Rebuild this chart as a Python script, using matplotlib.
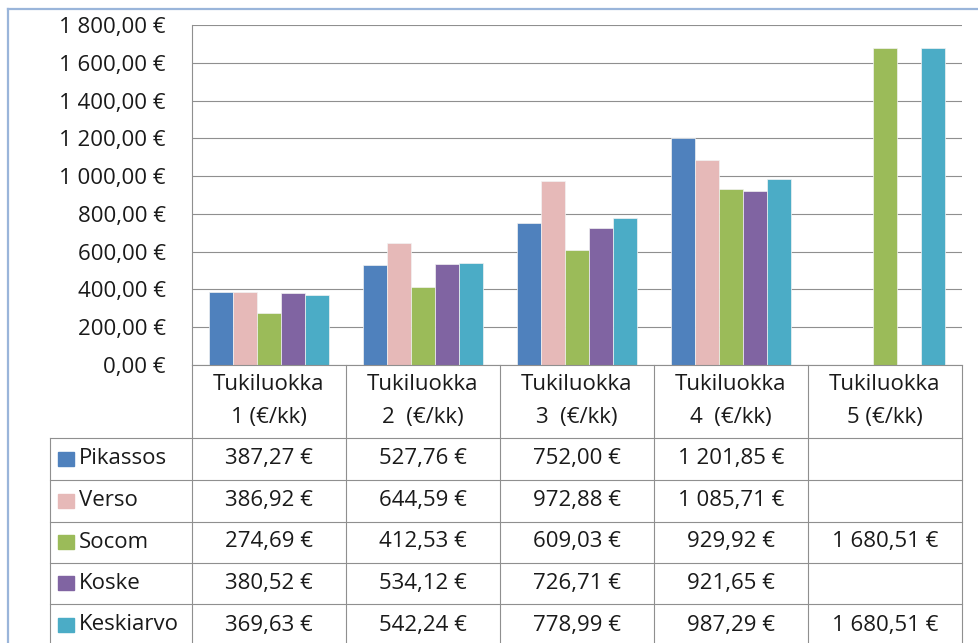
import numpy as np
import matplotlib.pyplot as plt
from matplotlib.patches import Rectangle
from matplotlib.ticker import FuncFormatter, MultipleLocator

plt.rcParams['font.family'] = ['Open Sans', 'DejaVu Sans']

categories = ["Tukiluokka\n1 (€/kk)", "Tukiluokka\n2  (€/kk)", "Tukiluokka\n3  (€/kk)",
              "Tukiluokka\n4  (€/kk)", "Tukiluokka\n5 (€/kk)"]
series = ["Pikassos", "Verso", "Socom", "Koske", "Keskiarvo"]
pikassos = [387.27, 527.76, 752.00, 1201.85, np.nan]
verso = [386.92, 644.59, 972.88, 1085.71, np.nan]
socom = [274.69, 412.53, 609.03, 929.92, 1680.51]
koske = [380.52, 534.12, 726.71, 921.65, np.nan]
keskiarvo = [369.63, 542.24, 778.99, 987.29, 1680.51]
values = [pikassos, verso, socom, koske, keskiarvo]
colors = ["#4F81BD", "#E6B9B8", "#9BBB59", "#8064A2", "#4BACC6"]


def fmt(v, pos=None):
    s = f"{v:,.2f}".replace(",", " ").replace(".", ",")
    return s + " €"


W, H = 979, 643
fig = plt.figure(figsize=(W / 100, H / 100), dpi=100)


def px(x0, y0, x1, y1):
    return [x0 / W, 1 - y1 / H, (x1 - x0) / W, (y1 - y0) / H]


txt = "#1a1a1a"
grid = "#8f8f8f"
fs = 16

# bar plot area
ax = fig.add_axes(px(192, 25, 962, 365))
n = len(categories)
w = 24 / 154
for j, (name, vals) in enumerate(zip(series, values)):
    x = np.arange(n) + 0.5 + (j - 2) * w
    ax.bar(x, vals, w, color=colors[j], edgecolor="#f2f2f2", linewidth=0.5, zorder=3)
ax.set_xlim(0, n)
ax.set_ylim(0, 1800)
ax.yaxis.set_major_locator(MultipleLocator(200))
ax.yaxis.set_major_formatter(FuncFormatter(fmt))
ax.set_xticks([])
ax.tick_params(axis="y", length=0, pad=19, labelsize=fs, labelcolor=txt)
ax.grid(axis="y", color=grid, linewidth=0.8)
ax.set_axisbelow(True)
for s in ["top", "right", "bottom"]:
    ax.spines[s].set_visible(False)
ax.spines["left"].set_color(grid)
ax.spines["left"].set_linewidth(0.8)

# data table drawn in pixel coordinates
ov = fig.add_axes([0, 0, 1, 1])
ov.set_xlim(0, W)
ov.set_ylim(H, 0)
ov.axis("off")

col_edges = [192 + 154 * i for i in range(n + 1)]
row_edges = [437.5, 480, 521.5, 562.5, 604, 650]
ov.plot([192, 962], [365, 365], color=grid, lw=0.8)
for y in row_edges[:-1]:
    ov.plot([50, 962], [y, y], color=grid, lw=0.8)
ov.plot([50, 50], [437.5, 650], color=grid, lw=0.8)
for x in col_edges:
    ov.plot([x, x], [365, 650], color=grid, lw=0.8)

for i, cat in enumerate(categories):
    cx = (col_edges[i] + col_edges[i + 1]) / 2
    l1, l2 = cat.split("\n")
    ov.text(cx, 385, l1, ha="center", va="center", fontsize=fs, color=txt)
    ov.text(cx, 417, l2, ha="center", va="center", fontsize=fs, color=txt)

for j, (name, vals) in enumerate(zip(series, values)):
    cy = (row_edges[j] + row_edges[j + 1]) / 2
    if j == len(series) - 1:
        cy = row_edges[j] + 21
    ov.add_patch(Rectangle((58, cy - 7), 16, 14, color=colors[j]))
    ov.text(79, cy, name, ha="left", va="center", fontsize=fs, color=txt)
    for i, v in enumerate(vals):
        if np.isnan(v):
            continue
        cx = (col_edges[i] + col_edges[i + 1]) / 2
        ov.text(cx, cy, fmt(v), ha="center", va="center", fontsize=fs, color=txt)

# chart area border (cropped)
ov.plot([8, 8], [9, 660], color="#9ab5da", lw=1.6)
ov.plot([8, 990], [9, 9], color="#9ab5da", lw=1.6)

fig.savefig("out.png", dpi=100)
